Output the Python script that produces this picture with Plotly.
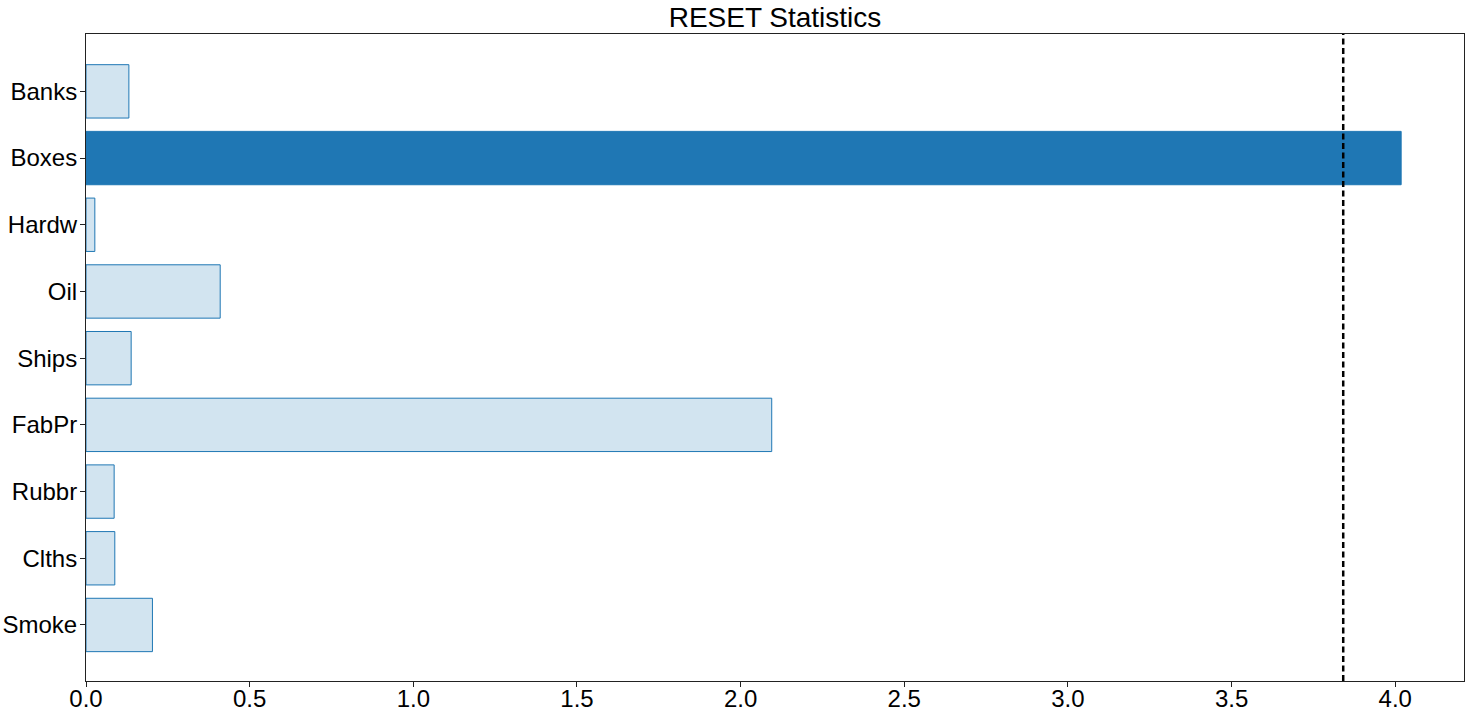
import plotly.graph_objects as go

categories = ["Banks", "Boxes", "Hardw", "Oil", "Ships", "FabPr", "Rubbr", "Clths", "Smoke"]
reset_stats = [0.131, 4.018, 0.027, 0.41, 0.138, 2.095, 0.086, 0.088, 0.203]
significant = [False, True, False, False, False, False, False, False, False]
critical_value = 3.841
x_ticks = [0.0, 0.5, 1.0, 1.5, 2.0, 2.5, 3.0, 3.5, 4.0]

fills = ["#1f77b4" if s else "rgba(31,119,180,0.2)" for s in significant]

fig = go.Figure()
fig.add_trace(go.Bar(
    x=reset_stats, y=categories, orientation="h", width=0.8,
    marker=dict(color=fills, line=dict(color="#1f77b4", width=1)),
    showlegend=False,
))
fig.add_shape(type="line", xref="x", yref="paper", x0=critical_value, x1=critical_value,
              y0=0, y1=1, line=dict(color="black", width=2.5, dash="6px,3.5px"))

fig.update_layout(
    width=1466, height=714,
    margin=dict(l=86, r=2, t=34, b=33, autoexpand=False),
    plot_bgcolor="white", paper_bgcolor="white",
    font=dict(family="Liberation Sans, Arial, sans-serif", size=24, color="black"),
    title=dict(text="RESET Statistics", x=0.5, xref="paper", xanchor="center",
               y=1 - 17 / 714, yref="container", yanchor="middle",
               font=dict(size=28)),
    bargap=0.2,
)
fig.update_xaxes(range=[0, 4.21], tickvals=x_ticks, ticktext=[f"{v:.1f}" for v in x_ticks],
                 automargin=False, ticklabelstandoff=-9,
                 showgrid=False, zeroline=False, showline=True, linecolor="#222", linewidth=1,
                 mirror=True, ticks="outside", ticklen=5, tickcolor="#222")
fig.update_yaxes(categoryorder="array", categoryarray=categories, range=[8.84, -0.86],
                 automargin=False, ticklabelstandoff=-2,
                 showgrid=False, zeroline=False, showline=True, linecolor="#222", linewidth=1,
                 mirror=True, ticks="outside", ticklen=5, tickcolor="#222")

fig.write_html("out.html", config={"displayModeBar": False},
               post_script="document.body.style.margin='0';document.body.style.overflow='hidden';")
